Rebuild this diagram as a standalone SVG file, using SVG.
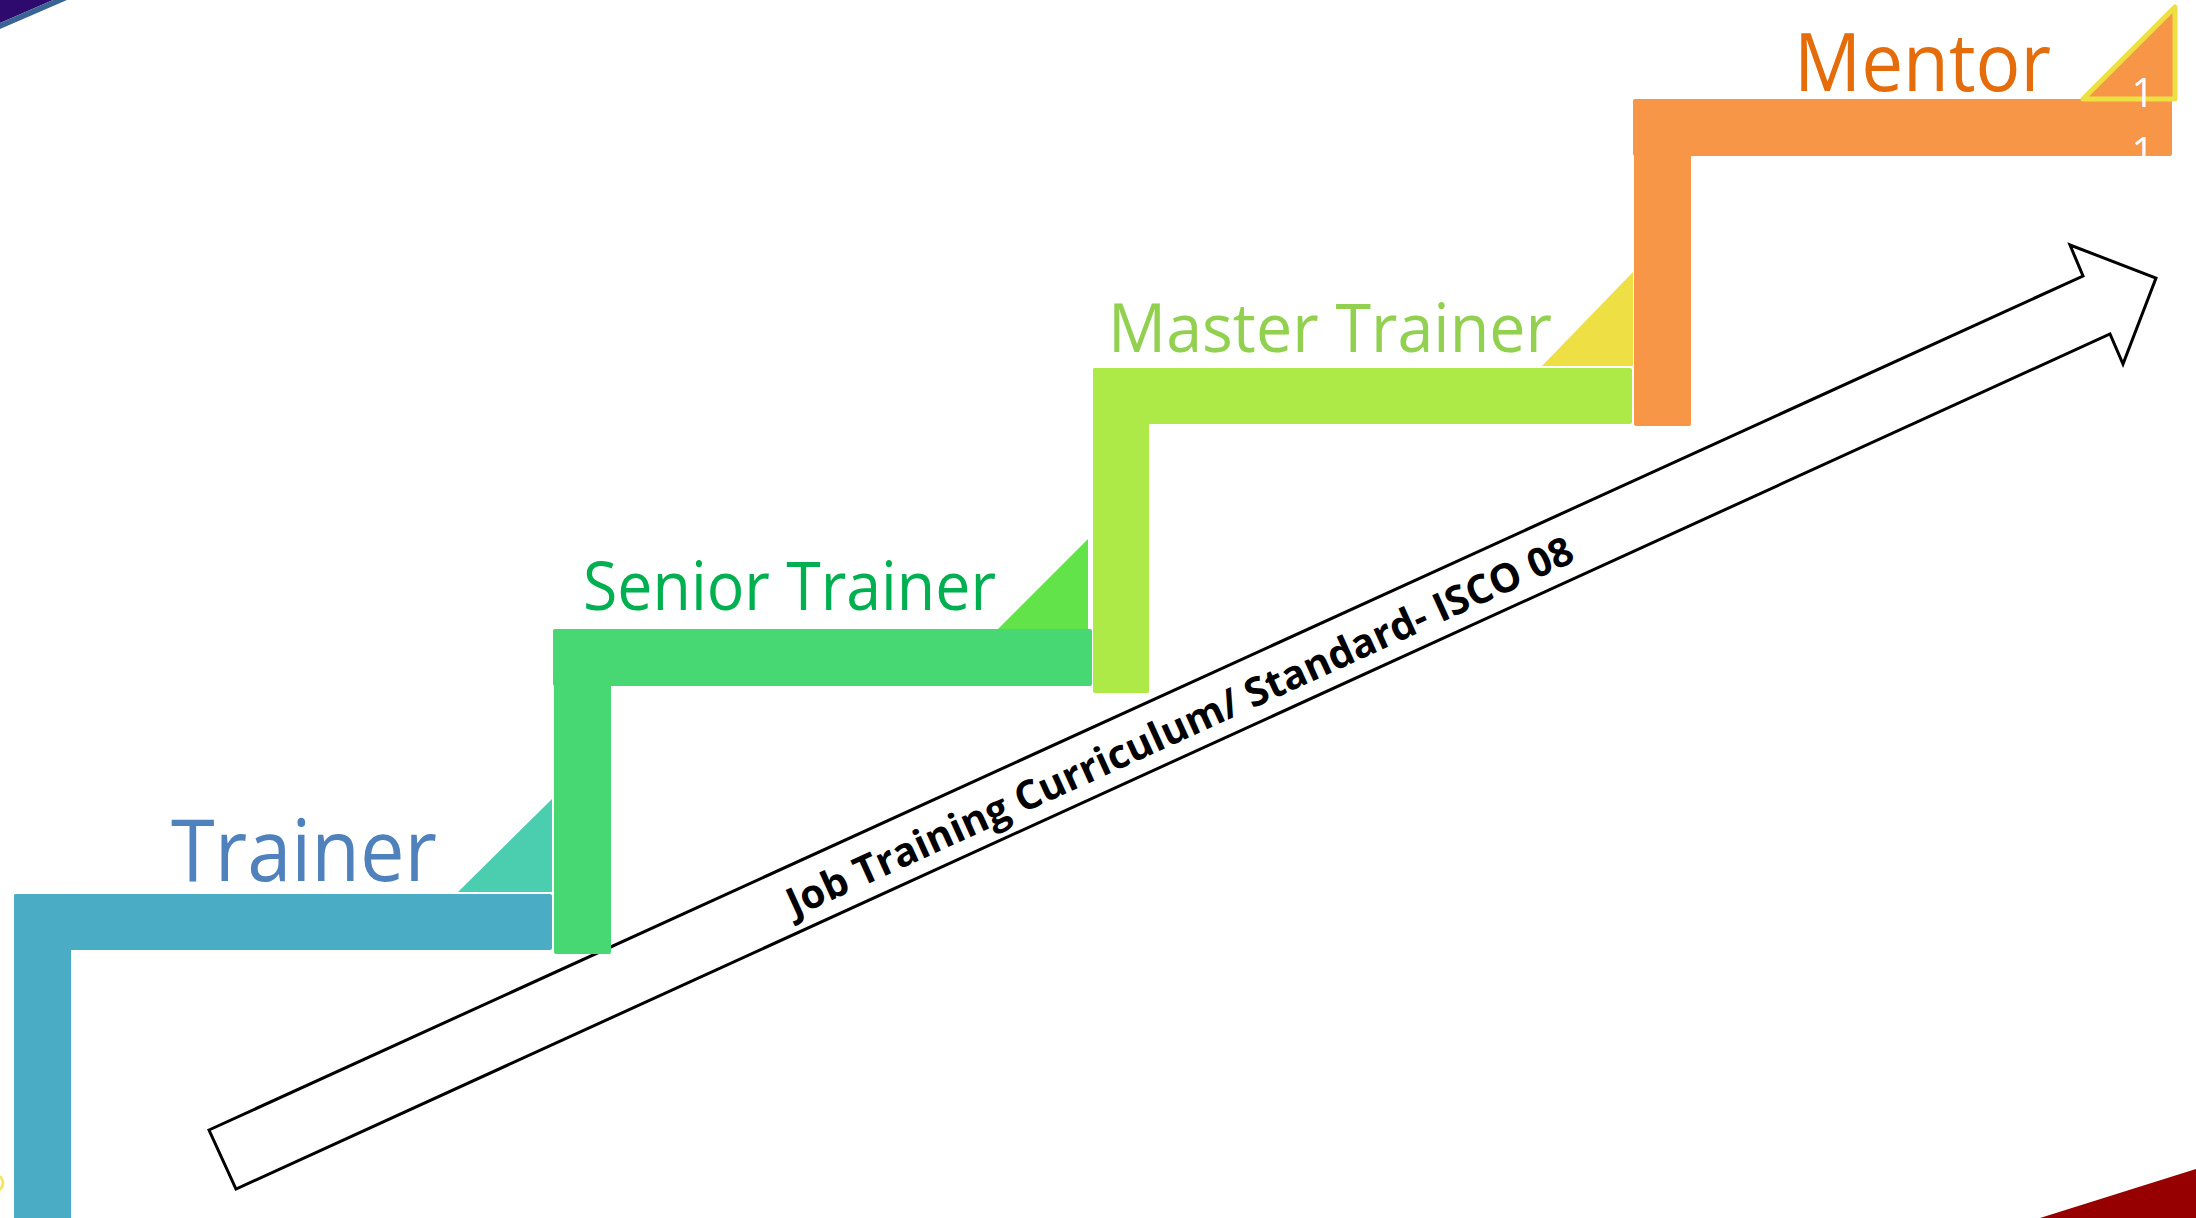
<svg xmlns="http://www.w3.org/2000/svg" width="2196" height="1218" viewBox="0 0 2196 1218">
<style>
.lbl{font-family:"Open Sans","Noto Sans","Liberation Sans",sans-serif;}
.arrowtxt{font-family:"Open Sans","Liberation Sans",sans-serif;font-weight:bold;font-size:40px;fill:#000;}
.arrow{fill:#fff;stroke:#000;stroke-width:3;stroke-linejoin:miter;}
</style>
<rect width="2196" height="1218" fill="#ffffff"/>
<g id="decor">
<polygon points="0,0 53,0 0,23" fill="#2E0A6E"/>
<polygon points="53,0 67,0 0,29 0,23" fill="#3A6494"/>
<polygon points="2040,1218 2196,1169 2196,1218" fill="#960000"/>
<circle cx="-5" cy="1183" r="8" fill="none" stroke="#F0E040" stroke-width="3" opacity="0.8"/>
</g>
<g id="connectors">
<polygon class="arrow" points="209,1130 2083,276 2070,245 2156,278 2123,364 2110,334 236,1189"/>
<text class="arrowtxt" x="1179" y="725" text-anchor="middle" dominant-baseline="central" transform="rotate(-24.5 1179 725)" textLength="860" lengthAdjust="spacingAndGlyphs">Job Training Curriculum/ Standard- ISCO 08</text>
</g>
<g id="trainer">
<polygon points="458,892 552,799 552,892" fill="#4BCDB0"/>
<rect x="14" y="894" width="538" height="56" rx="2" fill="#4BACC6"/>
<rect x="14" y="894" width="57" height="340" rx="2" fill="#4BACC6"/>
<text class="lbl" x="171" y="881" font-size="86" fill="#4F81BD" textLength="266" lengthAdjust="spacingAndGlyphs">Trainer</text>
</g>
<g id="senior-trainer">
<polygon points="995,632 1088,539 1088,632" fill="#61E349"/>
<rect x="553" y="629" width="539" height="57" rx="2" fill="#48D873"/>
<rect x="554" y="629" width="57" height="325" rx="2" fill="#48D873"/>
<text class="lbl" x="583" y="610" font-size="67" fill="#00B050" textLength="413" lengthAdjust="spacingAndGlyphs">Senior Trainer</text>
</g>
<g id="master-trainer">
<polygon points="1542,366 1633,272 1633,366" fill="#EEDF45"/>
<rect x="1093" y="368" width="539" height="56" rx="2" fill="#ADE947"/>
<rect x="1093" y="368" width="56" height="325" rx="2" fill="#ADE947"/>
<text class="lbl" x="1108" y="352" font-size="68" fill="#92D050" textLength="444" lengthAdjust="spacingAndGlyphs">Master Trainer</text>
</g>
<g id="mentor">
<rect x="1633" y="99" width="539" height="57" rx="2" fill="#F79646"/>
<rect x="1634" y="99" width="57" height="327" rx="2" fill="#F79646"/>
<polygon points="2083,99 2175,7 2175,99" fill="#F79646" stroke="#EEDF45" stroke-width="5" stroke-linejoin="round"/>
<text class="lbl" x="1794" y="91" font-size="80" fill="#E46C0A" textLength="257" lengthAdjust="spacingAndGlyphs">Mentor</text>
<text class="lbl" x="2143" y="107" font-size="40" fill="#ffffff" text-anchor="middle">1</text>
<text class="lbl" x="2143" y="166" font-size="40" fill="#ffffff" text-anchor="middle">1</text>
</g>
</svg>
